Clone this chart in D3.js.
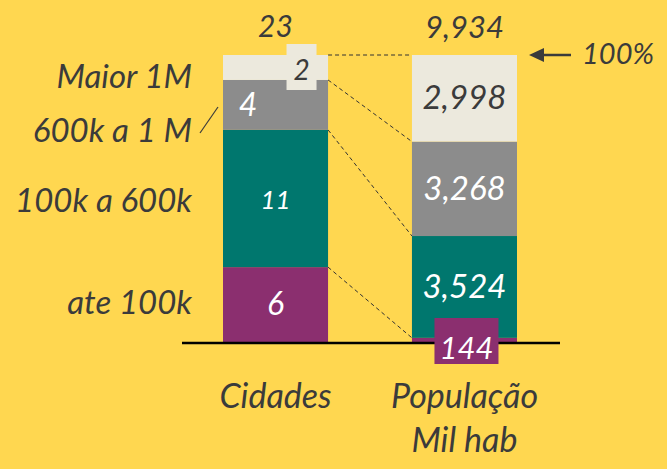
<!DOCTYPE html>
<html>
<head>
<meta charset="utf-8">
<script src="https://cdn.jsdelivr.net/npm/d3@7"></script>
<style>
  body { margin: 0; background: #FFD750; }
  text { font-family: Lato, "Open Sans", sans-serif; font-style: italic; fill: #3b3b3b; }
</style>
</head>
<body>
<div id="chart"></div>
<script>
// data
var categories = ['ate 100k', '100k a 600k', '600k a 1 M', 'Maior 1M']
var cidades = [6, 11, 4, 2]
var populacao = [144, 3524, 3268, 2998]
var bars = ['Cidades', 'População']

var W = 667, H = 469
var svg = d3.select('#chart').append('svg')
    .attr('width', W).attr('height', H)

svg.append('rect').attr('width', W).attr('height', H).attr('fill', '#FFD750')

var color = d3.scaleOrdinal().domain(categories)
    .range(['#8B2F6F', '#00776E', '#8C8C8C', '#ECE9DD'])
var labelColor = d3.scaleOrdinal().domain(categories)
    .range(['#fff', '#fff', '#fff', '#3b3b3b'])

// x band for the two bars
var x = d3.scaleBand().domain(bars).range([223, 517]).paddingInner(0.444).paddingOuter(0)
// each bar as share of its total
var y = d3.scaleLinear().domain([0, 1]).range([342, 55])

var table = categories.map(function(c, i) {
    return { cat: c, 'Cidades': cidades[i], 'População': populacao[i] }
})
var totals = { 'Cidades': d3.sum(cidades), 'População': d3.sum(populacao) }

// stacks per bar
var stacked = {}
bars.forEach(function(b) {
    var acc = 0
    stacked[b] = table.map(function(d) {
        var v = d[b], s = { cat: d.cat, v: v, y0: acc / totals[b], y1: (acc + v) / totals[b] }
        acc += v
        return s
    })
})

// connector lines (dashed) between boundaries
var bounds = stacked['Cidades'].map(function(d, i) {
    return { a: d.y1, b: stacked['População'][i].y1 }
})
svg.append('g').selectAll('line')
    .data(bounds)
    .enter().append('line')
    .attr('x1', x('Cidades') + x.bandwidth())
    .attr('x2', x('População'))
    .attr('y1', function(d) { return y(d.a) })
    .attr('y2', function(d) { return y(d.b) })
    .attr('stroke', '#333')
    .attr('stroke-width', 1)
    .attr('stroke-dasharray', '4,3')

bars.forEach(function(b) {
    svg.append('g').selectAll('rect')
        .data(stacked[b])
        .enter().append('rect')
        .attr('x', x(b))
        .attr('width', x.bandwidth())
        .attr('y', function(d) { return y(d.y1) })
        .attr('height', function(d) { return y(d.y0) - y(d.y1) })
        .attr('fill', function(d) { return color(d.cat) })
})

// baseline
svg.append('line')
    .attr('x1', 182).attr('x2', 560)
    .attr('y1', 343).attr('y2', 343)
    .attr('stroke', '#000').attr('stroke-width', 2.5)

var fmt = d3.format(',')
var bx = function(b) { return x(b) + x.bandwidth() / 2 }

// value labels left bar
var c = stacked['Cidades']
// small "2" box sticking out
var topSeg = c[3]
svg.append('rect')
    .attr('x', bx('Cidades') + 11).attr('y', y(1) - 11)
    .attr('width', 30).attr('height', 46)
    .attr('fill', color(topSeg.cat))
svg.append('text').attr('x', bx('Cidades') + 26).attr('y', y(1) + 25)
    .attr('text-anchor', 'middle').style('font-size', '28px')
    .style('fill', labelColor(topSeg.cat)).text(topSeg.v)
svg.append('text').attr('x', x('Cidades') + 25).attr('y', y((c[2].y0 + c[2].y1) / 2) + 11)
    .attr('text-anchor', 'middle').style('font-size', '32px')
    .style('fill', '#fff').text(c[2].v)
c.slice(0, 2).forEach(function(d) {
    svg.append('text').attr('x', bx('Cidades')).attr('y', y((d.y0 + d.y1) / 2) + 10)
        .attr('text-anchor', 'middle').style('font-size', d.v > 9 ? '26px' : '32px')
        .style('fill', '#fff').text(d.v)
})

// value labels right bar
var p = stacked['População']
p.slice(1).forEach(function(d) {
    svg.append('text').attr('x', bx('População')).attr('y', y((d.y0 + d.y1) / 2) + 11)
        .attr('text-anchor', 'middle').style('font-size', '33px')
        .style('fill', labelColor(d.cat)).text(fmt(d.v))
})
// 144 box below baseline
svg.append('rect')
    .attr('x', bx('População') - 30).attr('y', 318)
    .attr('width', 64).attr('height', 46)
    .attr('fill', color(p[0].cat))
svg.append('text').attr('x', bx('População') + 2).attr('y', 359)
    .attr('text-anchor', 'middle').style('font-size', '31px')
    .style('fill', '#fff').text(fmt(p[0].v))

// totals
svg.append('text').attr('x', bx('Cidades')).attr('y', 37)
    .attr('text-anchor', 'middle').style('font-size', '30px').text(totals['Cidades'])
svg.append('text').attr('x', bx('População')).attr('y', 38)
    .attr('text-anchor', 'middle').style('font-size', '31px').text(fmt(totals['População']))

// 100% arrow
svg.append('line').attr('x1', 571).attr('x2', 540).attr('y1', 55).attr('y2', 55)
    .attr('stroke', '#3b3b3b').attr('stroke-width', 2.5)
svg.append('path').attr('d', 'M529,55 L544,48 L544,62 Z').attr('fill', '#3b3b3b')
svg.append('text').attr('x', 582).attr('y', 64).style('font-size', '29px').text('100%')

// category labels
var catY = { 'Maior 1M': 88, '600k a 1 M': 142, '100k a 600k': 212, 'ate 100k': 314 }
svg.append('g').selectAll('text')
    .data(categories)
    .enter().append('text')
    .attr('x', 192)
    .attr('y', function(d) { return catY[d] })
    .attr('text-anchor', 'end')
    .style('font-size', '33px')
    .text(function(d) { return d })
svg.append('line').attr('x1', 200).attr('y1', 133).attr('x2', 218).attr('y2', 107)
    .attr('stroke', '#3b3b3b').attr('stroke-width', 1.2)

// bar names
svg.append('text').attr('x', bx('Cidades')).attr('y', 408)
    .attr('text-anchor', 'middle').style('font-size', '34px').text('Cidades')
svg.append('text').attr('x', bx('População')).attr('y', 408)
    .attr('text-anchor', 'middle').style('font-size', '34px').text('População')
svg.append('text').attr('x', bx('População')).attr('y', 452)
    .attr('text-anchor', 'middle').style('font-size', '34px').text('Mil hab')
</script>
</body>
</html>
